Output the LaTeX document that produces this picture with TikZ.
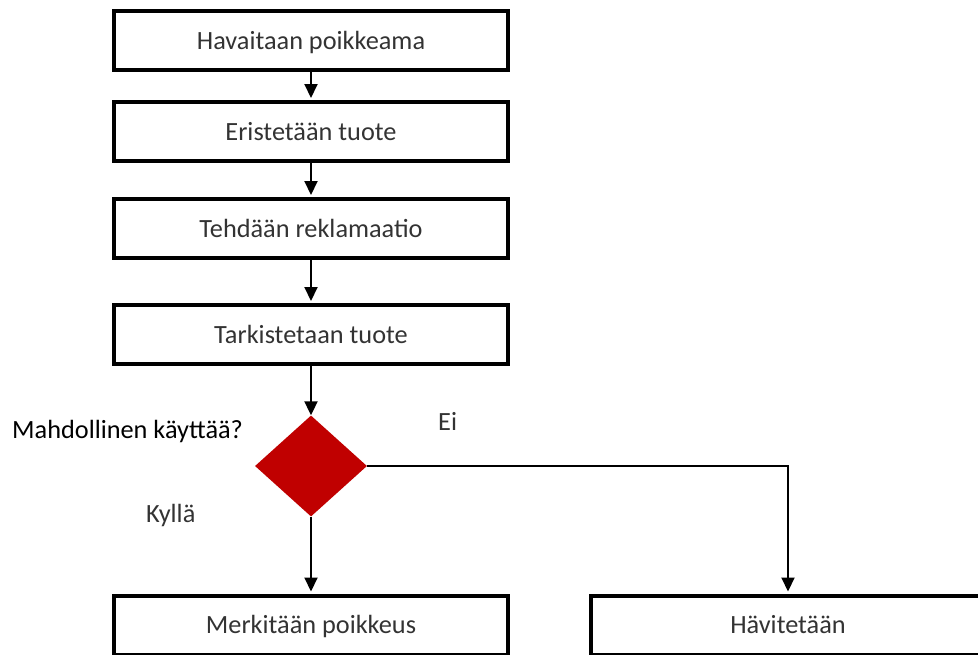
\documentclass[tikz,border=0pt]{standalone}
\usepackage{fontspec}
\setmainfont{Carlito}
\usetikzlibrary{arrows.meta,shapes.geometric}
\definecolor{txtgray}{HTML}{333333}
\definecolor{darkred}{HTML}{C00000}
\tikzset{
  stepbox/.style={draw=black, line width=4pt, minimum width=394pt, minimum height=59pt,
    inner sep=0pt, text=txtgray, font=\fontsize{26.3}{30}\selectfont,
    text height=17pt, text depth=0pt},
  decision/.style={diamond, fill=darkred, draw=none, minimum width=112pt, minimum height=101pt, inner sep=0pt},
  flow/.style={line width=2pt, -{Triangle[length=14pt,width=13pt]}, shorten >=2pt},
  lbl/.style={inner sep=0pt, anchor=base west, font=\fontsize{26.3}{30}\selectfont, text=txtgray}
}
\begin{document}
\begin{tikzpicture}[x=1pt,y=-1pt]
\useasboundingbox (0,0) rectangle (978,654);
\clip (0,0) rectangle (978,654);
\node[stepbox] (b1) at (311,40.5) {Havaitaan poikkeama};
\node[stepbox] (b2) at (311,131.5) {Eristetään tuote};
\node[stepbox] (b3) at (311,228.5) {Tehdään reklamaatio};
\node[stepbox] (b4) at (311,334.5) {Tarkistetaan tuote};
\node[decision] (d) at (311,466) {};
\node[stepbox] (m) at (311,625) {Merkitään poikkeus};
\node[stepbox] (h) at (788,625) {Hävitetään};
\node[lbl, text=black] (q) at (12,438) {Mahdollinen käyttää?};
\node[lbl] (ei) at (438,430) {Ei};
\node[lbl] (ky) at (146,522) {Kyllä};
\draw[flow] (b1.south) -- (b2.north);
\draw[flow] (b2.south) -- (b3.north);
\draw[flow] (b3.south) -- (b4.north);
\draw[flow, shorten >=0pt] (b4.south) -- (d.north);
\draw[flow] (d.south) -- (m.north);
\draw[flow] (d.east) -| (h.north);
\end{tikzpicture}
\end{document}
